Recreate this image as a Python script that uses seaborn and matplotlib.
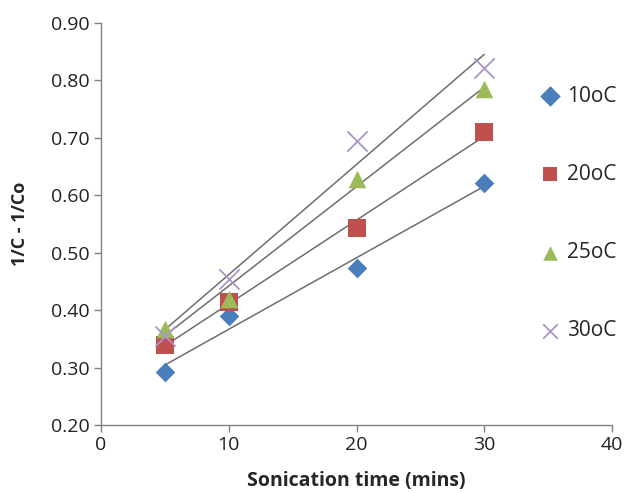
import numpy as np
import pandas as pd
import matplotlib
matplotlib.use("Agg")
import matplotlib.pyplot as plt
import seaborn as sns
from matplotlib.ticker import FormatStrFormatter

time = [5, 10, 20, 30]
series = ["10oC", "20oC", "25oC", "30oC"]
y10 = [0.293, 0.390, 0.473, 0.622]
y20 = [0.340, 0.415, 0.543, 0.710]
y25 = [0.368, 0.420, 0.628, 0.785]
y30 = [0.355, 0.455, 0.695, 0.822]

values = [y10, y20, y25, y30]
df = pd.DataFrame({
    "t": time * 4,
    "y": sum(values, []),
    "s": [s for s in series for _ in time],
})

sns.set_theme(style="white")
plt.rcParams["font.family"] = ["Open Sans", "DejaVu Sans"]

colors = {"10oC": "#4a7ebb", "20oC": "#c0504d", "25oC": "#9bbb59", "30oC": "#a995c9"}
markers = {"10oC": "D", "20oC": "s", "25oC": "^", "30oC": "x"}
sizes_map = {"10oC": 100, "20oC": 180, "25oC": 160, "30oC": 210}

fig = plt.figure(figsize=(6.34, 4.93), dpi=100)
ax = fig.add_axes([101/634, 1-425/493, (612-101)/634, (425-23)/493])

for s, vals in zip(series, values):
    sub = pd.DataFrame({"t": time, "y": vals})
    sns.regplot(data=sub, x="t", y="y", scatter=False, ci=None, truncate=True,
                color="#6e6e6e", line_kws={"lw": 1.1}, ax=ax)

for s in series:
    sub = df[df.s == s]
    if s == "30oC":
        sns.scatterplot(data=sub, x="t", y="y", marker="x", s=sizes_map[s], color=colors[s],
                        linewidth=1.3, ax=ax, label=s, zorder=3)
    else:
        sns.scatterplot(data=sub, x="t", y="y", marker=markers[s], s=sizes_map[s],
                        color=colors[s], edgecolor=colors[s], linewidth=0, ax=ax,
                        label=s, zorder=3)

ax.set_xlim(0, 40)
ax.set_ylim(0.2, 0.9)
ax.set_xticks([0, 10, 20, 30, 40])
ax.set_yticks(np.arange(0.2, 0.901, 0.1))
ax.yaxis.set_major_formatter(FormatStrFormatter("%.2f"))
for sp in ["top", "right"]:
    ax.spines[sp].set_visible(False)
for sp in ["left", "bottom"]:
    ax.spines[sp].set_color("#808080")
    ax.spines[sp].set_linewidth(1.0)
ax.tick_params(axis="both", which="major", length=5, width=1, color="#808080",
               labelsize=14, direction="out", bottom=True, left=True, pad=3,
               labelcolor="#222222")
ax.set_xlabel("Sonication time (mins)", fontsize=14, fontweight="bold", labelpad=12)
ax.set_ylabel("1/C - 1/Co", fontsize=13, fontweight="bold", labelpad=16)

leg = ax.legend(loc="upper left", bbox_to_anchor=(0.842, 0.865), frameon=False,
                fontsize=15, labelspacing=2.75, handletextpad=0.3, handlelength=1.0,
                borderaxespad=0)
for h in leg.legend_handles:
    try:
        h.set_sizes([110])
    except Exception:
        pass

fig.savefig("out.png", dpi=100)
